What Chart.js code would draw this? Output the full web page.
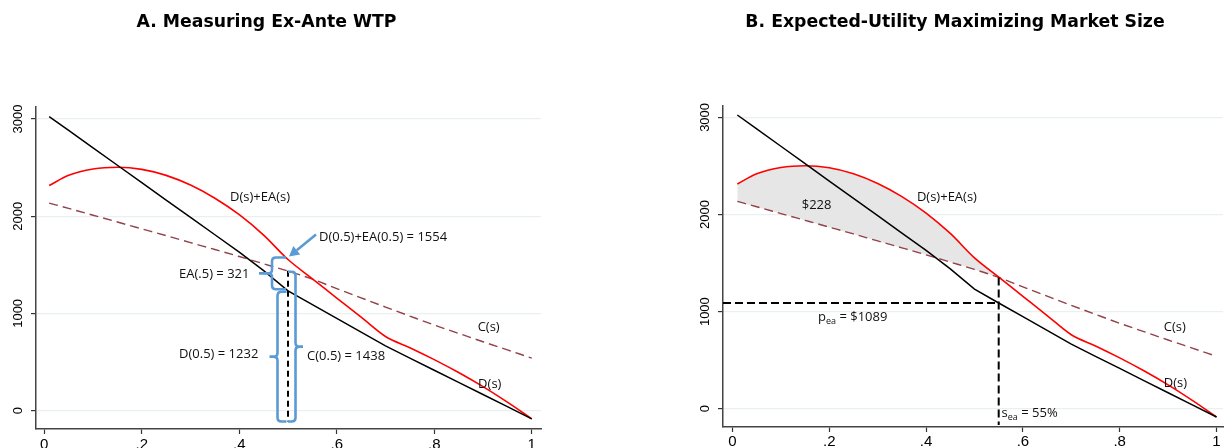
<!DOCTYPE html>
<html>
<head>
<meta charset="utf-8">
<script src="https://cdn.jsdelivr.net/npm/chart.js@4.4.0/dist/chart.umd.min.js"></script>
<style>
  html, body { margin: 0; padding: 0; background: #fff; overflow: hidden; width: 1224px; height: 448px; }
  canvas { position: absolute; top: 0; }
</style>
</head>
<body>
<canvas id="chartA" width="620" height="470" style="left:-8px"></canvas>
<canvas id="chartB" width="537" height="470" style="left:687px"></canvas>
<script>
// market share s and the three curves
const shares   = [0.01, 0.05, 0.1, 0.15, 0.2, 0.25, 0.3, 0.35, 0.4, 0.45, 0.5, 0.55, 0.6, 0.65, 0.7, 0.75, 0.8, 0.85, 0.9, 0.95, 1.0];
const demand   = [3025, 2882, 2703, 2524, 2345, 2166, 1988, 1809, 1630, 1440, 1232, 1089, 948, 806, 665, 540, 415, 290, 165, 40, -85];      // D(s)
const demandEA = [2315, 2420, 2485, 2503, 2482, 2420, 2320, 2185, 2015, 1805, 1554, 1356, 1158, 960, 762, 647, 524, 391, 246, 86, -85];  // D(s)+EA(s)
const cost     = [2135, 2080, 2010, 1940, 1870, 1800, 1728, 1657, 1585, 1510, 1435, 1352, 1255, 1160, 1065, 972, 880, 794, 708, 624, 540];  // C(s)

const yTicks = [0, 1000, 2000, 3000];
const xTicks = [0, 0.2, 0.4, 0.6, 0.8, 1];
const xTickLabels = ['0', '.2', '.4', '.6', '.8', '1'];

// values marked in panel A
const sMark = 0.5;
const dMark = 1232, eaMark = 321, dEaMark = 1554, cMark = 1438;
// optimum in panel B
const sEA = 0.55, pEA = 1089;
const surplus = '$228';

const blue = '#5b9bd5';
const noteFont = '13px "Open Sans"';
const subFont = '9px "Open Sans"';

Chart.defaults.font.family = 'Liberation Sans';

function pts(ys, upTo) {
  const out = [];
  shares.forEach((s, i) => {
    if (upTo === undefined || s <= upTo + 1e-9) out.push({ x: s, y: ys[i] });
  });
  return out;
}

function curveSets(withShade) {
  const sets = [
    { data: pts(demand), borderColor: '#000', borderWidth: 1.5, tension: 0, order: 1 },
    { data: pts(demandEA), borderColor: '#ff0000', borderWidth: 1.6, cubicInterpolationMode: 'monotone', order: 1 },
    { data: pts(cost), borderColor: '#924049', borderWidth: 1.4, borderDash: [9, 5], cubicInterpolationMode: 'monotone', order: 1 }
  ];
  if (withShade) {
    sets.push({ data: pts(demandEA, sEA), borderColor: 'rgba(0,0,0,0)', borderWidth: 1, cubicInterpolationMode: 'monotone',
                fill: '+1', backgroundColor: '#e6e6e6', order: 5 });
    sets.push({ data: pts(cost, sEA), borderColor: 'rgba(0,0,0,0)', borderWidth: 1, cubicInterpolationMode: 'monotone',
                fill: false, order: 5 });
  }
  return sets;
}

function baseOptions(cfg) {
  return {
    responsive: false,
    animation: false,
    events: [],
    layout: { padding: cfg.padding },
    plugins: {
      legend: { display: false },
      tooltip: { enabled: false },
      title: {
        display: true, text: cfg.title, color: '#000',
        font: { family: 'DejaVu Sans', size: 17.3, weight: 'bold' },
        padding: { top: 12, bottom: cfg.titleGap }
      }
    },
    elements: { point: { radius: 0 } },
    scales: {
      x: {
        type: 'linear', min: cfg.xMin, max: cfg.xMax,
        afterBuildTicks: sc => { sc.ticks = xTicks.map(v => ({ value: v })); },
        afterFit: sc => { sc.height = 30; },
        ticks: {
          padding: cfg.xPad, color: '#000', font: { size: 15 }, maxRotation: 0, autoSkip: false,
          callback: (v, i) => xTickLabels[i]
        },
        grid: { drawOnChartArea: false, drawTicks: true, tickLength: 5, tickColor: '#333', tickWidth: 1.2 },
        border: { color: '#444', width: 1.5 }
      },
      y: {
        type: 'linear', min: cfg.yMin, max: cfg.yMax,
        afterBuildTicks: sc => { sc.ticks = yTicks.map(v => ({ value: v })); },
        afterFit: sc => { sc.width = cfg.yWidth; },
        ticks: {
          padding: -2, color: '#000', font: { size: 13 }, minRotation: 90, maxRotation: 90,
          crossAlign: 'center', autoSkip: false, callback: v => String(v)
        },
        grid: { color: '#e8f0f1', lineWidth: 1.2, drawTicks: true, tickLength: 5, tickColor: '#333', tickWidth: 1.2 },
        border: { color: '#444', width: 1.5 }
      }
    }
  };
}

function seg(ctx, x0, y0, x1, y1) {
  ctx.beginPath(); ctx.moveTo(x0, y0); ctx.lineTo(x1, y1); ctx.stroke();
}

// curly bracket: dir 1 = arms to the right, tip to the left
function brace(ctx, xs, y0, y1, dir, arm, tip) {
  const r = Math.min(4, (y1 - y0) / 4);
  const ym = (y0 + y1) / 2;
  ctx.beginPath();
  ctx.moveTo(xs + dir * arm, y0);
  ctx.lineTo(xs + dir * r, y0);
  ctx.quadraticCurveTo(xs, y0, xs, y0 + r);
  ctx.lineTo(xs, ym - r);
  ctx.quadraticCurveTo(xs, ym, xs - dir * r, ym);
  ctx.lineTo(xs - dir * tip, ym);
  ctx.moveTo(xs - dir * r, ym);
  ctx.quadraticCurveTo(xs, ym, xs, ym + r);
  ctx.lineTo(xs, y1 - r);
  ctx.quadraticCurveTo(xs, y1, xs + dir * r, y1);
  ctx.lineTo(xs + dir * arm, y1);
  ctx.stroke();
}

function arrow(ctx, x0, y0, x1, y1, head) {
  const a = Math.atan2(y1 - y0, x1 - x0);
  const bx = x1 - head * Math.cos(a), by = y1 - head * Math.sin(a);
  seg(ctx, x0, y0, bx, by);
  ctx.beginPath();
  ctx.moveTo(x1, y1);
  ctx.lineTo(bx + head * 0.55 * Math.sin(a), by - head * 0.55 * Math.cos(a));
  ctx.lineTo(bx - head * 0.55 * Math.sin(a), by + head * 0.55 * Math.cos(a));
  ctx.closePath();
  ctx.fill();
}

function notes(ctx, x, y, list) {
  ctx.font = noteFont;
  ctx.fillStyle = '#111';
  ctx.textAlign = 'left';
  ctx.textBaseline = 'middle';
  list.forEach(n => ctx.fillText(n.text, x.getPixelForValue(n.s), y.getPixelForValue(n.v)));
}

function subText(ctx, px, py, main, sub, rest) {
  ctx.textAlign = 'left';
  ctx.textBaseline = 'middle';
  ctx.font = noteFont; ctx.fillText(main, px, py);
  let w = ctx.measureText(main).width;
  ctx.font = subFont; ctx.fillText(sub, px + w, py + 4);
  w += ctx.measureText(sub).width;
  ctx.font = noteFont; ctx.fillText(rest, px + w, py);
}

const notesA = [
  { text: 'D(s)+EA(s)', s: 0.381, v: 2196 },
  { text: 'D(0.5)+EA(0.5) = ' + dEaMark, s: 0.5636, v: 1780 },
  { text: 'EA(.5) = ' + eaMark, s: 0.2764, v: 1405 },
  { text: 'D(0.5) = ' + dMark, s: 0.2764, v: 583 },
  { text: 'C(0.5) = ' + cMark, s: 0.539, v: 555 },
  { text: 'C(s)', s: 0.889, v: 860 },
  { text: 'D(s)', s: 0.89, v: 274 }
];

const notesB = [
  { text: surplus, s: 0.143, v: 2091 },
  { text: 'D(s)+EA(s)', s: 0.381, v: 2178 },
  { text: 'C(s)', s: 0.891, v: 834 },
  { text: 'D(s)', s: 0.891, v: 257 }
];

const overlayA = {
  id: 'overlayA',
  afterDatasetsDraw(chart) {
    const { ctx, chartArea } = chart;
    const x = chart.scales.x, y = chart.scales.y;
    const px = x.getPixelForValue(sMark);
    const bottom = chartArea.bottom - 7.5;
    ctx.save();
    ctx.strokeStyle = '#000';
    ctx.lineWidth = 2;
    ctx.setLineDash([6, 4]);
    seg(ctx, px, y.getPixelForValue(cMark), px, bottom);
    ctx.setLineDash([]);

    ctx.strokeStyle = blue;
    ctx.fillStyle = blue;
    ctx.lineWidth = 2.6;
    ctx.lineJoin = 'round';
    brace(ctx, px - 16, y.getPixelForValue(dEaMark) - 2, y.getPixelForValue(dMark) - 1.5, 1, 14, 13);
    brace(ctx, px - 10.5, y.getPixelForValue(dMark) + 1, bottom, 1, 9, 8);
    brace(ctx, px + 7.5, y.getPixelForValue(cMark) + 1, bottom, -1, 7.5, 7.5);
    const ty = y.getPixelForValue(dEaMark);
    arrow(ctx, px + 28, ty - 25, px + 1, ty - 3, 10);

    notes(ctx, x, y, notesA);
    ctx.restore();
  }
};

const overlayB = {
  id: 'overlayB',
  afterDatasetsDraw(chart) {
    const { ctx, chartArea } = chart;
    const x = chart.scales.x, y = chart.scales.y;
    const px = x.getPixelForValue(sEA), py = y.getPixelForValue(pEA);
    const top = y.getPixelForValue(cost[shares.indexOf(sEA)]);
    ctx.save();
    ctx.strokeStyle = '#000';
    ctx.lineWidth = 2;
    ctx.setLineDash([8, 4]);
    seg(ctx, chartArea.left, py, px, py);
    seg(ctx, px, top, px, chartArea.bottom - 2);
    ctx.setLineDash([]);

    notes(ctx, x, y, notesB);
    ctx.fillStyle = '#111';
    subText(ctx, x.getPixelForValue(0.1767), y.getPixelForValue(937), 'p', 'ea', ' = $' + pEA);
    subText(ctx, x.getPixelForValue(0.556), y.getPixelForValue(-51), 's', 'ea', ' = ' + Math.round(sEA * 100) + '%');
    ctx.restore();
  }
};

new Chart(document.getElementById('chartA'), {
  type: 'line',
  data: { datasets: curveSets(false) },
  options: baseOptions({
    title: 'A. Measuring Ex-Ante WTP', titleGap: 74,
    padding: { top: 0, left: 0, right: 71, bottom: 11 },
    xMin: -0.017, xMax: 1.019, yMin: -190, yMax: 3126, yWidth: 44, xPad: 2
  }),
  plugins: [overlayA]
});

new Chart(document.getElementById('chartB'), {
  type: 'line',
  data: { datasets: curveSets(true) },
  options: baseOptions({
    title: 'B. Expected-Utility Maximizing Market Size', titleGap: 73,
    padding: { top: 0, left: 0, right: 1, bottom: 13 },
    xMin: -0.0196, xMax: 1.0134, yMin: -188, yMax: 3120, yWidth: 36, xPad: 1
  }),
  plugins: [overlayB]
});
</script>
</body>
</html>
